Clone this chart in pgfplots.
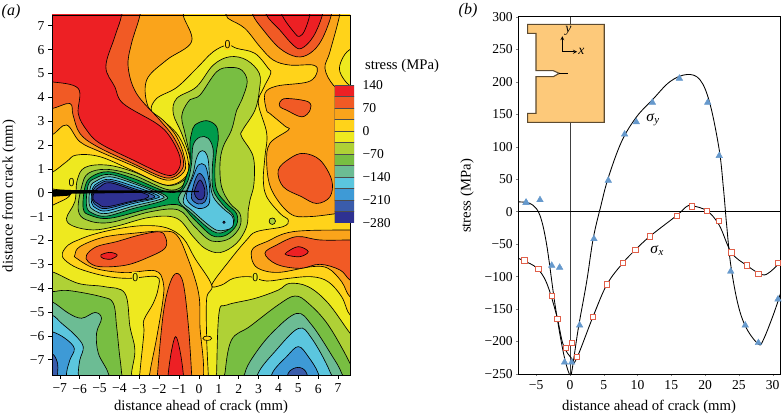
\documentclass[border=0pt]{standalone}
\usepackage{pgfplots}
\pgfplotsset{compat=1.18}
\usepackage{fontspec}
\setmainfont{Liberation Serif}
\definecolor{cR}{HTML}{ED2024}
\definecolor{cOR}{HTML}{F15A25}
\definecolor{cO}{HTML}{FAA41B}
\definecolor{cG}{HTML}{FFD31A}
\definecolor{cY}{HTML}{EEE91F}
\definecolor{cLG}{HTML}{AFD136}
\definecolor{cGr}{HTML}{78BE42}
\definecolor{cDG}{HTML}{009B4C}
\definecolor{cSe}{HTML}{6CBC94}
\definecolor{cCy}{HTML}{5BC6DE}
\definecolor{cBl}{HTML}{3E9AD6}
\definecolor{cMB}{HTML}{3A5CAB}
\definecolor{cDk}{HTML}{2E3192}
\definecolor{cInset}{HTML}{FDC97A}
\definecolor{cInsetE}{HTML}{5C4A30}
\definecolor{cTri}{HTML}{6699CC}
\definecolor{cSq}{HTML}{E0604A}
\newcommand{\reg}[2]{\addplot[fill=#1,draw=black,line width=0.65pt,smooth cycle,tension=0.6] coordinates {#2};}
\newcommand{\tf}{\fontsize{13.6}{15}\selectfont}
\newcommand{\lf}{\fontsize{14.7}{16}\selectfont}
\newcommand{\zf}{\sffamily\fontsize{12}{13}\selectfont}
\begin{document}
\begin{tikzpicture}[x=1pt,y=1pt]
\path[use as bounding box] (0,0) rectangle (782,415);
% ---------- panel a
\begin{axis}[at={(52pt,40pt)},anchor=south west,scale only axis,width=298pt,height=360pt,
 xmin=-7.39,xmax=7.6,ymin=-7.64,ymax=7.45,
 xtick={-7,-6,...,7},xticklabels={−7,−6,−5,−4,−3,−2,−1,0,1,2,3,4,5,6,7},
 ytick={-7,-6,...,7},yticklabels={−7,−6,−5,−4,−3,−2,−1,0,1,2,3,4,5,6,7},
 tick label style={font=\tf},tick style={black,line width=0.5pt},tick align=outside,
 major tick length=4pt,xtick pos=bottom,ytick pos=left,axis line style={line width=0.7pt},
 clip=true,axis on top,xticklabel style={yshift=-1.5pt}]
\addplot[fill=cY,draw=none] coordinates {(-8,-8)(8,-8)(8,8)(-8,8)} -- cycle;
% gold, everything above the zero contour
\reg{cG}{(-8,.84)(-7.42,.84)(-6.66,1.3)(-6.16,1.58)(-4.98,1.51)(-3.31,.92)(-1.63,.32)(-.62,.72)(-.58,1.51)(-1,2.35)(-1.63,2.9)(-2.38,3.39)(-2.13,3.95)(-1.12,4.41)(-.12,5.21)(.72,5.91)(1.44,6.19)(1.9,6.05)(2.82,5.84)(3.49,5.21)(3.61,5.0)(3.24,4.37)(2.99,3.74)(3.41,2.49)(3.32,1.51)(3.24,.53)(3.41,-.17)(4.08,-.87)(4.5,-1.15)(4.24,-1.42)(2.9,-1.63)(2.4,-1.98)(1.56,-2.82)(.64,-3.87)(1.14,-3.87)(1.73,-3.59)(2.57,-3.52)(3.4,-3.7)(4.49,-3.59)(5.67,-3.52)(6.5,-3.73)(7.18,-4.36)(7.6,-5.12)(8.2,-5.12)(8.5,8.5)(-8.5,8.5)}
% gold lower left
\reg{cG}{(.64,-3.87)(.39,-4.43)(.39,-6.1)(.47,-7.64)(.47,-8.2)(-2.97,-8.2)(-2.97,-7.57)(-2.77,-5.89)(-2.77,-5.34)(-2.3,-4.64)(-2.05,-4.01)(-2.13,-3.52)(-3.55,-3.59)(-4.73,-3.49)(-6.07,-3.17)(-6.74,-2.82)(-6.87,-2.54)(-6.57,-2.19)(-6.07,-1.98)(-5.32,-1.75)(-4.14,-1.52)(-2.8,-1.38)(-1.63,-1.47)(-.79,-1.91)(-.2,-2.75)}
% gold patch left of crack
\reg{cG}{(-8,-.9)(-7.41,-.55)(-6.66,-.24)(-6.49,-.03)(-6.9,.1)(-8,.1)}
% upper left
\reg{cO}{(-.79,8.2)(-.79,7.44)(-.37,6.33)(-1.63,5.56)(-2.63,4.72)(-2.55,3.6)(-1.8,3.04)(-1.12,2.35)(-.74,1.51)(-.75,.88)(-1.63,.53)(-3.31,1.13)(-4.98,1.72)(-5.99,2.14)(-6.66,2.84)(-7.42,2.42)(-8.3,2.42)(-8.3,8.2)}
\reg{cOR}{(-2.97,8.2)(-2.97,7.44)(-3.39,6.26)(-3.56,5.28)(-3.14,4.16)(-1.96,3.04)(-1.29,2.35)(-.82,1.51)(-.87,.95)(-1.63,.62)(-3.31,1.22)(-5.15,1.95)(-5.99,2.49)(-6.33,3.25)(-6.49,3.74)(-7.42,3.53)(-8.3,3.6)(-8.3,8.2)}
\reg{cR}{(-3.89,8.2)(-3.89,7.44)(-4.23,6.54)(-4.68,5.28)(-4.23,4.44)(-3.81,3.74)(-2.13,2.9)(-1.46,2.35)(-.96,1.51)(-1.04,.95)(-1.63,.74)(-3.31,1.37)(-4.98,2.07)(-5.65,2.63)(-6.07,3.32)(-6.07,4.37)(-7.42,4.65)(-8.3,4.65)(-8.3,8.2)}
% upper and middle right
\reg{cO}{(1.2,8.2)(1.39,7.44)(1.56,7.26)(2.31,6.89)(3.07,6.12)(3.74,5.56)(4.58,5.35)(5.75,5.35)(5.95,5.07)(5.5,4.65)(3.91,4.47)(3.32,4.16)(3.4,3.46)(3.57,3.32)(4.33,2.79)(4.5,2.63)(3.57,2.07)(3.41,1.23)(3.66,.11)(4.58,-.87)(5.59,-1.0)(7.6,-.8)(8.3,-.8)(8.3,3.9)(7.43,4.16)(6.76,4.51)(6.34,5.21)(6.59,5.91)(7.09,7.49)(7.1,8.2)}
\reg{cY}{(8.2,6.1)(7.56,5.98)(7.18,5.56)(7.09,5.07)(7.56,4.51)(8.2,4.4)}
\reg{cOR}{(2.7,8.2)(2.7,7.49)(3.24,6.82)(4.07,6.05)(4.91,5.7)(5.58,5.84)(6.17,6.4)(6.67,7.49)(6.67,8.2)}
\reg{cR}{(3.37,8.2)(3.37,7.49)(4.07,6.82)(4.74,6.19)(5.16,6.05)(5.75,6.54)(6.22,7.49)(6.22,8.2)}
\reg{cR}{(4.16,8.2)(4.16,7.49)(4.83,6.68)(5.08,6.56)(5.33,6.82)(5.58,7.49)(5.58,8.2)}
\reg{cOR}{(4.08,3.81)(4.41,3.95)(5.5,3.81)(5.59,3.46)(5.17,3.18)(4.41,3.46)(4.08,3.6)}
\reg{cOR}{(3.99,.95)(4.58,1.44)(5.25,1.65)(6.09,1.37)(6.68,.53)(6.59,-.17)(5.92,-.45)(5.17,-.17)(4.24,.25)}
% lower right warm lobe
\reg{cO}{(2.73,-2.33)(3.41,-2.05)(4.75,-1.63)(7.6,-1.56)(8.3,-1.56)(8.3,-4.5)(7.6,-4.36)(7.18,-3.73)(6.5,-3.17)(5.67,-3.1)(3.99,-3.34)(2.98,-3.17)(2.65,-2.75)}
\reg{cOR}{(3.32,-2.54)(3.91,-2.19)(4.92,-1.84)(6.09,-1.98)(7.6,-1.98)(8.3,-1.98)(8.3,-3.9)(7.6,-3.66)(7.1,-3.24)(6.09,-3.0)(5.08,-3.17)(3.91,-3.0)}
\reg{cR}{(4.41,-2.5)(5,-2.26)(5.5,-2.47)(5.08,-2.68)(4.41,-2.61)}
% lower left warm lobe and central strip
\reg{cO}{(-6.24,-2.61)(-5.99,-2.26)(-4.82,-1.87)(-3.31,-1.7)(-1.8,-1.61)(-1.12,-1.77)(-.62,-2.61)(-.03,-4.15)(.05,-5.54)(.05,-8.2)(-2.47,-8.2)(-2.47,-7.57)(-2.13,-6.1)(-1.8,-4.43)(-1.8,-3.73)(-2.21,-3.27)(-3.72,-3.35)(-5.23,-3.17)(-6.15,-2.75)}
\reg{cOR}{(-5.65,-2.61)(-5.15,-2.26)(-4.14,-2.05)(-2.97,-1.77)(-1.97,-1.64)(-1.66,-1.91)(-1.71,-2.33)(-2.47,-2.68)(-3.64,-3.03)(-4.98,-3.1)(-5.57,-2.89)}
\reg{cR}{(-4.93,-2.61)(-4.48,-2.5)(-4.11,-2.61)(-4.4,-2.78)(-4.82,-2.75)}
\reg{cOR}{(-1.12,-3.38)(-1.46,-3.8)(-1.79,-5.05)(-2.08,-7.57)(-2.08,-8.2)(-.37,-8.2)(-.37,-7.57)(-.54,-5.48)(-.79,-3.8)}
\reg{cR}{(-1.54,-8.2)(-1.54,-7.57)(-1.37,-6.59)(-1.17,-6.03)(-.96,-6.59)(-.79,-7.57)(-.79,-8.2)}
% lower left cold corner
\reg{cLG}{(-8.3,-3.31)(-7.41,-3.31)(-6.07,-3.8)(-4.73,-3.94)(-3.72,-4.22)(-3.47,-5.61)(-3.22,-6.59)(-3.39,-7.57)(-3.39,-8.3)(-8.3,-8.3)}
\reg{cGr}{(-8.3,-4.15)(-7.41,-4.15)(-6.56,-4.1)(-4.9,-4.36)(-4.31,-4.63)(-4.14,-5.61)(-4.02,-6.59)(-3.89,-7.57)(-3.89,-8.3)(-8.3,-8.3)}
\reg{cSe}{(-8.3,-4.4)(-7.41,-4.56)(-6.56,-5.05)(-5.9,-5.26)(-5.23,-5.02)(-4.9,-5.26)(-5.15,-5.89)(-5.06,-6.73)(-4.56,-7.57)(-4.56,-8.3)(-8.3,-8.3)}
\reg{cCy}{(-8.3,-5)(-7.41,-5.12)(-6.91,-5.47)(-6.24,-5.96)(-5.82,-6.45)(-5.99,-7.01)(-6.07,-7.57)(-6.07,-8.3)(-8.3,-8.3)}
\reg{cBl}{(-8.3,-5.7)(-7.41,-5.82)(-6.74,-6.1)(-6.27,-6.52)(-6.49,-7.01)(-6.66,-7.57)(-6.66,-8.3)(-8.3,-8.3)}
\reg{cMB}{(-8.3,-6.6)(-7.41,-6.73)(-7.11,-7.15)(-7.11,-7.57)(-7.11,-8.3)(-8.3,-8.3)}
% lower right cold corner
\reg{cLG}{(.89,-8.3)(.89,-7.57)(1.01,-5.05)(1.39,-4.71)(2.82,-4.43)(3.99,-4.08)(4.56,-3.8)(5.5,-3.94)(6.5,-4.63)(7.6,-5.89)(8.3,-6.6)(8.3,-8.3)}
\reg{cGr}{(1.31,-8.3)(1.31,-7.57)(1.64,-6.17)(2.57,-5.6)(3.99,-4.7)(4.83,-4.33)(5.5,-4.63)(6.5,-5.54)(7.6,-7.15)(7.68,-7.57)(7.8,-8.3)}
\reg{cSe}{(2.31,-8.3)(2.31,-7.57)(2.73,-6.87)(3.66,-5.89)(4.91,-5.06)(5.67,-5.54)(6.67,-6.8)(7.18,-7.57)(7.3,-8.3)}
\reg{cCy}{(2.98,-8.3)(2.98,-7.57)(3.82,-6.66)(5,-5.69)(5.67,-6.1)(6.59,-7.5)(6.7,-8.3)}
\reg{cBl}{(3.69,-8.3)(3.69,-7.57)(4.41,-6.87)(5,-6.45)(5.5,-6.87)(6,-7.57)(6.1,-8.3)}
\reg{cMB}{(4.49,-8.3)(4.49,-7.57)(5,-7.32)(5.42,-7.57)(5.42,-8.3)}
\reg{cG}{(.2,-6.1)(.27,-6.03)(.42,-6.01)(.57,-6.03)(.64,-6.1)(.57,-6.17)(.42,-6.19)(.27,-6.17)}
\reg{cLG}{(3.53,-1.19)(3.58,-1.09)(3.69,-1.06)(3.8,-1.09)(3.85,-1.19)(3.8,-1.29)(3.69,-1.33)(3.58,-1.29)}
% central cold system
\reg{cLG}{(-.45,.9)(-.47,1.51)(-.87,2.49)(-1.29,3.32)(-1.12,3.95)(-.12,4.44)(.72,5.35)(1.56,5.7)(2.4,5.56)(3.04,5)(3.04,4.3)(2.82,3.46)(2.2,2.63)(2.15,2.35)(2.73,1.51)(2.77,.39)(2.57,-.3)(2.48,-.72)(2.4,-1.42)(1.89,-2.12)(1.06,-2.51)(.3,-2.33)(-.29,-1.84)(-1.12,-1.07)(-2.46,-1.03)(-4.14,-1.4)(-5.31,-1.56)(-6.32,-1.4)(-6.66,-1.07)(-6.24,-.37)(-6.12,.53)(-5.73,1.06)(-4.64,1.16)(-3.3,.88)(-1.71,.32)(-.87,.46)}
\reg{cGr}{(-.4,1.2)(-.7,2.49)(-.85,3)(-.82,3.39)(-.45,3.9)(.05,4.09)(.89,5.07)(1.56,5.25)(2.15,5.14)(2.43,4.65)(2.15,3.88)(1.9,3.46)(1.64,2.63)(1.22,1.93)(1.06,1.23)(1.14,.25)(1.56,-.44)(2.06,-.87)(2.06,-1.42)(1.56,-1.91)(.89,-2.05)(.39,-1.91)(-.29,-1.35)(-1.04,-.72)(-2.46,-.8)(-4.48,-1.25)(-5.65,-1.14)(-6.07,-.72)(-5.9,.25)(-5.57,.81)(-4.64,.98)(-3.3,.74)(-1.63,.14)(-.87,.25)(-.62,.74)}
\reg{cDG}{(-.37,2.49)(-.2,2.84)(.39,3.02)(.89,2.77)(.97,2.21)(.89,1.79)(.8,.95)(.89,.11)(1.39,-.45)(1.89,-.87)(1.89,-1.35)(1.39,-1.77)(.8,-1.84)(.39,-1.63)(-.29,-1.07)(-1.04,-.51)(-2.46,-.66)(-4.48,-1.07)(-5.48,-.94)(-5.82,-.66)(-5.73,.25)(-5.4,.67)(-4.56,.88)(-3.3,.6)(-1.63,.04)(-.96,.11)(-.7,.53)(-.45,1.23)(-.45,2.07)}
\reg{cSe}{(-.29,2.0)(.05,2.33)(.47,2.28)(.72,1.79)(.67,.95)(.72,.11)(1.22,-.52)(1.72,-.94)(1.72,-1.35)(1.31,-1.63)(.89,-1.68)(.39,-1.43)(-.45,-.8)(-.87,-.52)(-1.04,-.24)(-.87,.04)(-.54,.53)(-.37,1.23)}
\reg{cCy}{(-.15,1.37)(.05,1.72)(.3,1.72)(.47,1.37)(.55,.53)(.72,-.17)(1.22,-.66)(1.69,-1.01)(1.69,-1.43)(1.31,-1.57)(.89,-1.57)(.39,-1.29)(-.37,-.73)(-.79,-.38)(-.54,.25)(-.29,.81)}
\reg{cBl}{(-.03,1.16)(.3,1.16)(.47,.67)(.55,-.03)(.47,-.52)(-.03,-.66)(-.54,-.38)(-.62,-.03)(-.29,.67)}
\reg{cMB}{(.05,.81)(.3,.53)(.42,-.03)(.3,-.38)(-.03,-.47)(-.37,-.24)(-.29,.25)(-.12,.67)}
\reg{cDk}{(.08,.53)(.3,.11)(.22,-.24)(-.03,-.28)(-.23,-.03)(-.12,.32)}
\reg{cDk}{(1.2,-1.24)(1.26,-1.19)(1.32,-1.24)(1.26,-1.29)}
\reg{cSe}{(-5.57,.32)(-5.23,.6)(-4.48,.77)(-3.3,.46)(-1.71,-.1)(-1.83,-.34)(-3.3,-.66)(-4.64,-.98)(-5.35,-.86)(-5.65,-.56)}
\reg{cCy}{(-5.45,.25)(-5.15,.5)(-4.48,.67)(-3.3,.39)(-1.88,-.1)(-1.96,-.28)(-3.3,-.56)(-4.64,-.87)(-5.23,-.76)(-5.52,-.47)}
\reg{cBl}{(-5.35,.18)(-5.06,.42)(-4.48,.56)(-3.3,.28)(-2.1,-.1)(-2.16,-.24)(-3.3,-.45)(-4.64,-.76)(-5.15,-.66)(-5.4,-.42)}
\reg{cMB}{(-5.32,.11)(-5.01,.36)(-4.48,.49)(-3.3,.18)(-2.3,-.1)(-2.38,-.24)(-3.3,-.38)(-4.64,-.66)(-5.11,-.56)(-5.35,-.33)}
\reg{cDk}{(-5.26,.04)(-4.98,.25)(-4.48,.42)(-3.3,.11)(-2.55,-.1)(-2.72,-.26)(-3.3,-.34)(-4.64,-.59)(-5.06,-.47)(-5.32,-.28)}
% crack
\addplot[fill=black,draw=none] coordinates {(-7.6,.14)(-6.5,.12)(-6.4,.11)(0,.08)(0,.03)(-6.4,-.04)(-6.5,-.12)(-7.6,-.18)} -- cycle;
\node[font=\zf,fill=cY,inner sep=.8pt] at (axis cs:-6.4,.42) {0};
\node[font=\zf,fill=cG,inner sep=.8pt] at (axis cs:1.44,6.19) {0};
\node[font=\zf,fill=cY,inner sep=.8pt] at (axis cs:-3.2,-3.55) {0};
\node[font=\zf,fill=cY,inner sep=.8pt] at (axis cs:2.84,-3.56) {0};
\end{axis}
% ---------- colour bar
\begin{axis}[at={(334.5pt,192pt)},anchor=south west,scale only axis,width=19.5pt,height=138pt,
 xmin=0,xmax=1,ymin=-280,ymax=140,xtick=\empty,
 ytick={-280,-210,-140,-70,0,70,140},yticklabels={−280,−210,−140,−70,0,70,140},
 yticklabel pos=right,tick label style={font=\tf},major tick length=0pt,
 yticklabel style={xshift=5pt},axis line style={draw=none},clip=true]
\addplot[fill=cR,draw=black!70,line width=.5pt] coordinates {(0,105)(1,105)(1,140)(0,140)} -- cycle;
\addplot[fill=cOR,draw=black!70,line width=.5pt] coordinates {(0,70)(1,70)(1,105)(0,105)} -- cycle;
\addplot[fill=cO,draw=black!70,line width=.5pt] coordinates {(0,35)(1,35)(1,70)(0,70)} -- cycle;
\addplot[fill=cG,draw=black!70,line width=.5pt] coordinates {(0,0)(1,0)(1,35)(0,35)} -- cycle;
\addplot[fill=cY,draw=black!70,line width=.5pt] coordinates {(0,-35)(1,-35)(1,0)(0,0)} -- cycle;
\addplot[fill=cLG,draw=black!70,line width=.5pt] coordinates {(0,-70)(1,-70)(1,-35)(0,-35)} -- cycle;
\addplot[fill=cGr,draw=black!70,line width=.5pt] coordinates {(0,-105)(1,-105)(1,-70)(0,-70)} -- cycle;
\addplot[fill=cSe,draw=black!70,line width=.5pt] coordinates {(0,-140)(1,-140)(1,-105)(0,-105)} -- cycle;
\addplot[fill=cCy,draw=black!70,line width=.5pt] coordinates {(0,-175)(1,-175)(1,-140)(0,-140)} -- cycle;
\addplot[fill=cBl,draw=black!70,line width=.5pt] coordinates {(0,-210)(1,-210)(1,-175)(0,-175)} -- cycle;
\addplot[fill=cMB,draw=black!70,line width=.5pt] coordinates {(0,-245)(1,-245)(1,-210)(0,-210)} -- cycle;
\addplot[fill=cDk,draw=black!70,line width=.5pt] coordinates {(0,-280)(1,-280)(1,-245)(0,-245)} -- cycle;
\end{axis}
% ---------- panel b
\begin{axis}[at={(518.3pt,41pt)},anchor=south west,scale only axis,width=262.4pt,height=357.3pt,
 xmin=-7.65,xmax=31.2,ymin=-250,ymax=300,
 xtick={-5,0,...,30},xticklabels={−5,0,5,10,15,20,25,30},
 ytick={-250,-200,...,300},yticklabels={−250,−200,−150,−100,−50,0,50,100,150,200,250,300},
 tick label style={font=\tf},major tick length=2pt,tick align=outside,xtick pos=bottom,ytick pos=left,
 axis line style={line width=.8pt},clip=true,axis on top,xticklabel style={yshift=-1pt}]
\addplot[draw=black!75,line width=.9pt] coordinates {(0,-250)(0,300)};
\addplot[draw=black,line width=.7pt] coordinates {(-7.65,0)(31.2,0)};
\addplot[black,line width=.85pt,smooth,tension=.6] coordinates {(-7.65,15)(-6.5,14)(-5.5,10)(-4.44,-6)(-3.45,-51)(-2.2,-144)(-1,-216)(-.1,-250)(.25,-247)(1.23,-180)(2.47,-108)(3.45,-41)(4.6,10)(5.67,52)(7.65,108)(9.87,146)(12.2,172)(14.8,200)(17.3,211)(19.24,203)(20.7,167)(22.1,95)(22.7,38)(23,2.5)(23.2,-21)(23.8,-82)(24.9,-144)(26.15,-180)(27.9,-204)(28.6,-198)(30.1,-159)(31.2,-125)};
\addplot[black,line width=.85pt,smooth,tension=.6] coordinates {(-7.65,-72)(-6.76,-76)(-4.9,-87)(-3.45,-110)(-1.97,-160)(-1,-205)(.25,-226)(.9,-228)(3.4,-162)(5.48,-112)(7.84,-79)(9.67,-59)(11.84,-38)(15.8,-6)(17.3,8)(18.1,9)(20.3,1)(22.1,-21)(23.9,-63)(26.2,-83)(28.4,-97)(29.6,-93)(31.2,-77)};
\addplot[only marks,color=cTri,mark=triangle*,mark size=3.8pt,mark options={fill=cTri,draw=cTri}] coordinates {(-6.5,14)(-6.5,14)(-4.44,18)(-2.7,-83)(-1.53,-86)(-.8,-232)(.25,-232)(1.43,-175)(3.55,-42)(5.67,48)(8.09,119)(9.82,138)(12.2,168)(16.2,205)(20.4,168)(22.1,86)(23.8,-92)(25.95,-175)(27.9,-202)(30.8,-135)};
\addplot[only marks,color=cSq,line width=.9pt,mark=square*,mark size=2.7pt,mark options={fill=white,draw=cSq,line width=.9pt}] coordinates {(-6.76,-75)(-6.76,-75)(-4.69,-88)(-2.7,-130)(-1.87,-165)(-.64,-210)(.3,-202)(1.04,-224)(3.4,-162)(5.48,-112)(7.84,-79)(9.67,-59)(11.84,-38)(15.8,-7)(18.1,8)(20.3,.9)(22.1,-14)(23.9,-63)(26.2,-83)(27.9,-96)(30.8,-79)};
% inset specimen
\addplot[fill=cInset,draw=cInsetE,line width=1.1pt] coordinates {(-6.27,288.2)(5.08,288.2)(5.08,137.4)(-6.27,137.4)(-6.27,151.2)(-5.03,151.2)(-5.03,207.7)(-2.47,207.7)(-1.58,212.8)(-2.47,216.9)(-5.03,216.9)(-5.03,274.4)(-6.27,274.4)} -- cycle;
\addplot[black,line width=.6pt] coordinates {(-1.58,212.8)(-.25,212.8)};
\addplot[black,line width=.8pt,-stealth] coordinates {(-1.13,246)(-1.13,270)};
\addplot[black,line width=.8pt,-stealth] coordinates {(-1.13,246)(1.05,246)};
\node[font=\tf\itshape] at (axis cs:-.25,278) {y};
\node[font=\tf\itshape] at (axis cs:1.7,246) {x};
\node[font=\fontsize{15.5}{16}\selectfont] at (axis cs:12.3,142) {\textit{σ}\textsubscript{\textit{y}}};
\node[font=\fontsize{15.5}{16}\selectfont] at (axis cs:12.9,-60) {\textit{σ}\textsubscript{\textit{x}}};
\end{axis}
% ---------- free text
\node[font=\lf,anchor=west] at (361.5,349) {stress (MPa)};
\node[font=\fontsize{16}{17}\selectfont\itshape] at (11,403) {(a)};
\node[font=\fontsize{16}{17}\selectfont\itshape] at (468,404) {(b)};
\node[font=\lf] at (201,8) {distance ahead of crack (mm)};
\node[font=\lf] at (649,8) {distance ahead of crack (mm)};
\node[font=\lf,rotate=90] at (9,219) {distance from crack (mm)};
\node[font=\lf,rotate=90] at (467,219) {stress (MPa)};
\end{tikzpicture}
\end{document}
